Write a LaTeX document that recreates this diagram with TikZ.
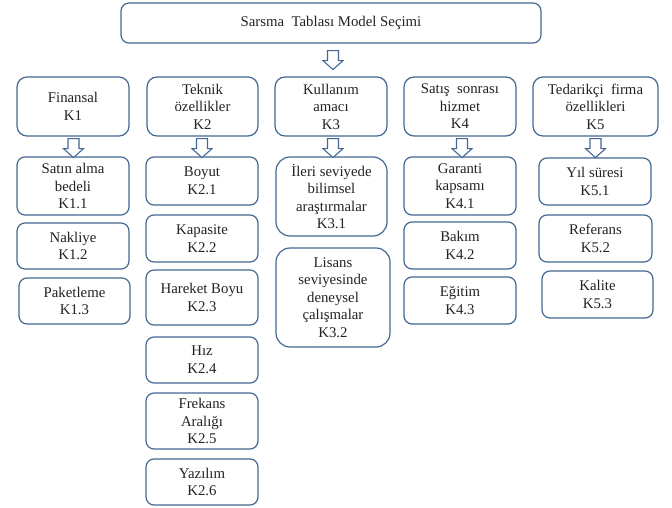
\documentclass[tikz,border=0pt]{standalone}
\usepackage{fontspec}
\setmainfont{Liberation Serif}
\usetikzlibrary{calc}
\definecolor{boxline}{RGB}{68,104,148}
\definecolor{txt}{RGB}{35,35,35}
\tikzset{
  box/.style={draw=boxline, line width=1.2pt, rounded corners=8pt, fill=white,
    align=center, text=txt, inner sep=0pt,
    font=\fontsize{14.8pt}{17.5pt}\selectfont},
  bigbox/.style={box, rounded corners=14pt},
  arrowline/.style={draw=boxline, line width=1.1pt, fill=white, line join=miter},
  downarr/.pic={\path[arrowline] (-5.5,0) -- (5.5,0) -- (5.5,10) -- (10,10) -- (0,19) -- (-10,10) -- (-5.5,10) -- cycle;}
}
\begin{document}
\begin{tikzpicture}[x=1pt,y=-1pt]
\useasboundingbox (0,0) rectangle (672,508);
% top
\node[box, minimum width=420pt, minimum height=40pt] (top) at (331,23) {Sarsma\ \ Tablası Model Seçimi};
% level 1
\node[box, rounded corners=10pt, minimum width=112pt, minimum height=59pt] (k1) at (73,106.5) {Finansal\\K1};
\node[box, rounded corners=10pt, minimum width=111pt, minimum height=59pt] (k2) at (202.5,106.5) {Teknik\\özellikler\\K2};
\node[box, rounded corners=10pt, minimum width=112pt, minimum height=59pt] (k3) at (331,106.5) {Kullanım\\amacı\\K3};
\node[box, rounded corners=10pt, minimum width=112pt, minimum height=59pt] (k4) at (460,106.5) {Satış\ \ sonrası\\hizmet\\K4};
\node[box, rounded corners=10pt, minimum width=125pt, minimum height=59pt] (k5) at (595.5,106.5) {Tedarikçi\ \ firma\\özellikleri\\K5};
% column 1
\node[box, minimum width=112pt, minimum height=58pt] (k11) at (73,186) {Satın alma\\bedeli\\K1.1};
\node[box, minimum width=112pt, minimum height=46pt] (k12) at (73,246) {Nakliye\\K1.2};
\node[box, minimum width=111pt, minimum height=46pt] (k13) at (74.5,301) {Paketleme\\K1.3};
% column 2
\node[box, minimum width=112pt, minimum height=48pt] (k21) at (202,181) {Boyut\\K2.1};
\node[box, minimum width=112pt, minimum height=47pt] (k22) at (202,238.5) {Kapasite\\K2.2};
\node[box, minimum width=112pt, minimum height=55pt] (k23) at (202,297.5) {Hareket Boyu\\K2.3};
\node[box, minimum width=112pt, minimum height=46pt] (k24) at (202,360) {Hız\\K2.4};
\node[box, minimum width=112pt, minimum height=56pt] (k25) at (202,421) {Frekans\\Aralığı\\K2.5};
\node[box, minimum width=112pt, minimum height=46pt] (k26) at (202,482) {Yazılım\\K2.6};
% column 3
\node[bigbox, minimum width=111pt, minimum height=79pt] (k31) at (331.5,196.5) {İleri seviyede\\bilimsel\\araştırmalar\\K3.1};
\node[bigbox, minimum width=114pt, minimum height=99pt] (k32) at (333,297.5) {Lisans\\seviyesinde\\deneysel\\çalışmalar\\K3.2};
% column 4
\node[box, minimum width=112pt, minimum height=58pt] (k41) at (460,186) {Garanti\\kapsamı\\K4.1};
\node[box, minimum width=112pt, minimum height=47pt] (k42) at (460,245.5) {Bakım\\K4.2};
\node[box, minimum width=112pt, minimum height=47pt] (k43) at (460,300.5) {Eğitim\\K4.3};
% column 5
\node[box, minimum width=112pt, minimum height=47pt] (k51) at (595,181.5) {Yıl süresi\\K5.1};
\node[box, minimum width=113pt, minimum height=47pt] (k52) at (595.5,238.5) {Referans\\K5.2};
\node[box, minimum width=111pt, minimum height=47pt] (k53) at (597.5,294.5) {Kalite\\K5.3};
% block arrows
\pic at ($(top.south)+(2,7)$) {downarr};
\pic at ($(k1.south)+(0.5,2)$) {downarr};
\pic at ($(k2.south)+(-0.5,2)$) {downarr};
\pic at ($(k3.south)+(2,2)$) {downarr};
\pic at ($(k4.south)+(2,2)$) {downarr};
\pic at ($(k5.south)+(0,2)$) {downarr};
\end{tikzpicture}
\end{document}
